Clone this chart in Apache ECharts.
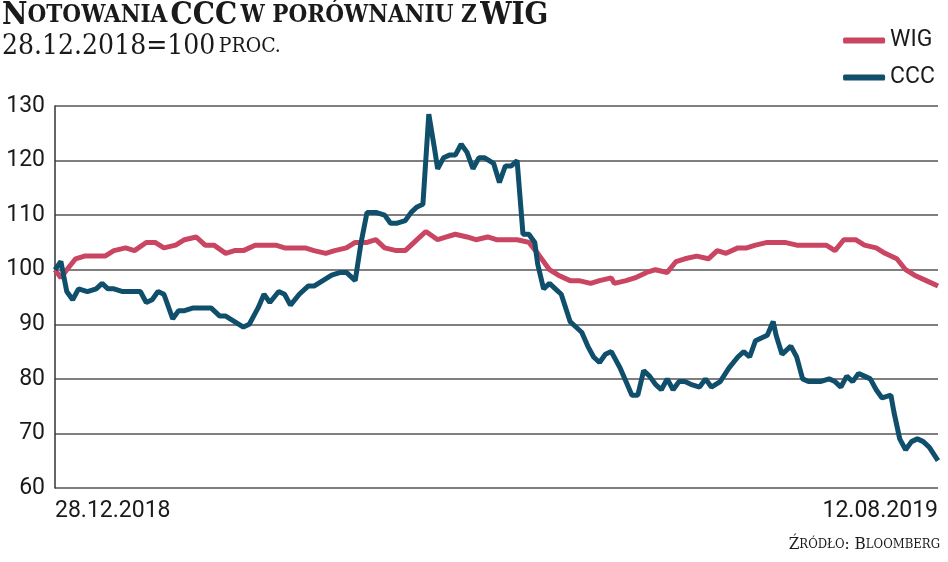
<!DOCTYPE html>
<html><head><meta charset="utf-8">
<script src="https://cdn.jsdelivr.net/npm/echarts@6/dist/echarts.min.js"></script>
<style>html,body{margin:0;padding:0;background:#fff}#c{width:948px;height:562px}</style>
</head><body><div id="c"></div>
<script>
const startDate = '28.12.2018';
const endDate = '12.08.2019';
const lastDay = 150;
const yTicks = [60, 70, 80, 90, 100, 110, 120, 130];
const cccDay = [0,1,2,3,4,5.5,7,8,9,10,11.5,13,14.5,15.5,16.5,17.5,18.5,20,21,22,23.5,25,26.5,28,29,30.5,32,33,34.5,35.5,36.5,38,39,40,41.5,43,44,45.5,47,48.5,49.5,51,52,53,54.5,56,57,58,59.5,60.5,61.5,62.5,63.5,64.5,65,66,67,68,69,70,71,72,73,74.5,75.5,76.5,77.5,78.5,79.5,80.5,81.5,82,83,84,85,86,87.5,88.5,89.5,90.5,91.5,92.5,93.5,94.5,96,97,98,99,100,101,102,103,104,105,106,107,108,109.5,110.5,111.5,113,114.5,116,117,118,119,120,121,122,122.5,123.5,125,126,127,128,129,130,131.5,132.5,133.5,134.5,135.5,136.5,137.5,138.5,139.5,140.5,142,142.5,143.5,144.5,145.5,146.5,147.5,148.5,150];
const ccc = [100,101.5,96,94.5,96.5,96,96.5,97.5,96.5,96.5,96,96,96,94,94.5,96,95.5,91,92.5,92.5,93,93,93,91.5,91.5,90.5,89.5,90,93,95.5,94,96,95.5,93.5,95.5,97,97,98,99,99.5,99.5,98,105,110.5,110.5,110,108.5,108.5,109,110.5,111.5,112,128.5,122,118.5,120.5,121,121,123,121.5,118.5,120.5,120.5,119.5,116,119,119,120,106.5,106.5,105,101,96.5,97.5,96.5,95.5,90.5,89.5,88.5,86,84,83,84.5,85,82,79.5,77,77,81.5,80.5,79,78,80,78,79.5,79.5,79,78.5,80,78.5,79.5,82,84,85,84,87,87.5,88,90.5,88,84.5,86,84,80,79.5,79.5,79.5,80,79.5,78.5,80.5,79.5,81,80.5,80,78,76.5,77,74,69,67,68.5,69,68.5,67.5,65];
const wigDay = [0,1,2,3.5,5,7,8.5,10,12,13.5,15.5,17,18.5,20.5,22,24,25.5,27,29,30.5,32,34,35.5,37.5,39,41,42.5,44,46,47.5,49.5,51,53,54.5,56,58,59.5,61.5,63,65,66.5,68,70,71.5,73.5,75,77,78.5,80.5,82,84,85.5,87.5,89,91,92.5,94.5,95,97,98.5,100.5,102,104,105.5,107,109,111,112.5,114,116,117.5,119,121,122.5,124,126,127.5,129,131,132.5,134,136,137.5,139.5,141,143,144.5,146,148,150];
const wig = [100,98.5,100,102,102.5,102.5,102.5,103.5,104,103.5,105,105,104,104.5,105.5,106,104.5,104.5,103,103.5,103.5,104.5,104.5,104.5,104,104,104,103.5,103,103.5,104,105,105,105.5,104,103.5,103.5,105.5,107,105.5,106,106.5,106,105.5,106,105.5,105.5,105.5,105,103,100,99,98,98,97.5,98,98.5,97.5,98,98.5,99.5,100,99.5,101.5,102,102.5,102,103.5,103,104,104,104.5,105,105,105,104.5,104.5,104.5,104.5,103.5,105.5,105.5,104.5,104,103,102,100,99,98,97];

const zip = (a, b) => a.slice(0, Math.min(a.length, b.length)).map((d, i) => [d, b[i]]);
const RED = '#c94562', BLUE = '#0f4f6c';
const FONT = 'Liberation Sans Narrow, Roboto';
const SERIF = 'DejaVu Serif Condensed, DejaVu Serif';
const chart = echarts.init(document.getElementById('c'));
chart.setOption({
  animation: false,
  grid: {left: 55, right: 10, top: 106, bottom: 74},
  xAxis: {
    type: 'value', min: 0, max: lastDay, interval: lastDay,
    axisLine: {show: false}, axisTick: {show: false}, splitLine: {show: false},
    axisLabel: {showMinLabel: true, showMaxLabel: true, alignMinLabel: 'left', alignMaxLabel: 'right',
      formatter: v => v === 0 ? startDate : (v === lastDay ? endDate : ''),
      color: '#1a1a1a', fontSize: 23, fontFamily: FONT, margin: 12}
  },
  yAxis: {
    type: 'value', min: 60, max: 130, interval: 10,
    axisLine: {show: true, lineStyle: {color: '#333', width: 1.5}},
    axisTick: {show: false},
    axisLabel: {color: '#1a1a1a', fontSize: 23, fontFamily: FONT, margin: 10,
      formatter: v => yTicks.includes(v) ? String(v) : ''},
    splitLine: {lineStyle: {color: '#555', width: 1.5}}
  },
  legend: {
    right: 8, top: 24, orient: 'vertical', itemGap: 14, itemWidth: 42, itemHeight: 6,
    icon: 'roundRect', textStyle: {fontSize: 23, color: '#1a1a1a', fontFamily: FONT},
    data: ['WIG', 'CCC']
  },
  series: [
    {name: 'WIG', type: 'line', data: zip(wigDay, wig), showSymbol: false, lineStyle: {color: RED, width: 5}, itemStyle: {color: RED}},
    {name: 'CCC', type: 'line', data: zip(cccDay, ccc), showSymbol: false, lineStyle: {color: BLUE, width: 5}, itemStyle: {color: BLUE}}
  ],
  graphic: [
    {type: 'text', left: 2, top: 0, style: {
      text: '{a|N}{b|OTOWANIA} {a|CCC} {b|W PORÓWNANIU Z} {a|WIG}',
      rich: {
        a: {fontSize: 31, fontWeight: 'bold', fontFamily: SERIF, fill: '#1a1a1a'},
        b: {fontSize: 24, fontWeight: 'bold', fontFamily: SERIF, fill: '#1a1a1a'}
      }}},
    {type: 'text', left: 2, top: 33, style: {
      text: '{a|28.12.2018=100} {b|PROC.}',
      rich: {
        a: {fontSize: 28, fontFamily: SERIF, fill: '#1a1a1a'},
        b: {fontSize: 21, fontFamily: SERIF, fill: '#1a1a1a'}
      }}},
    {type: 'text', right: 8, top: 536, style: {
      text: '{a|Ź}{b|RÓDŁO}{a|: B}{b|LOOMBERG}',
      rich: {
        a: {fontSize: 17, fontFamily: SERIF, fill: '#1a1a1a'},
        b: {fontSize: 13, fontFamily: SERIF, fill: '#1a1a1a'}
      }}}
  ]
});
</script></body></html>
